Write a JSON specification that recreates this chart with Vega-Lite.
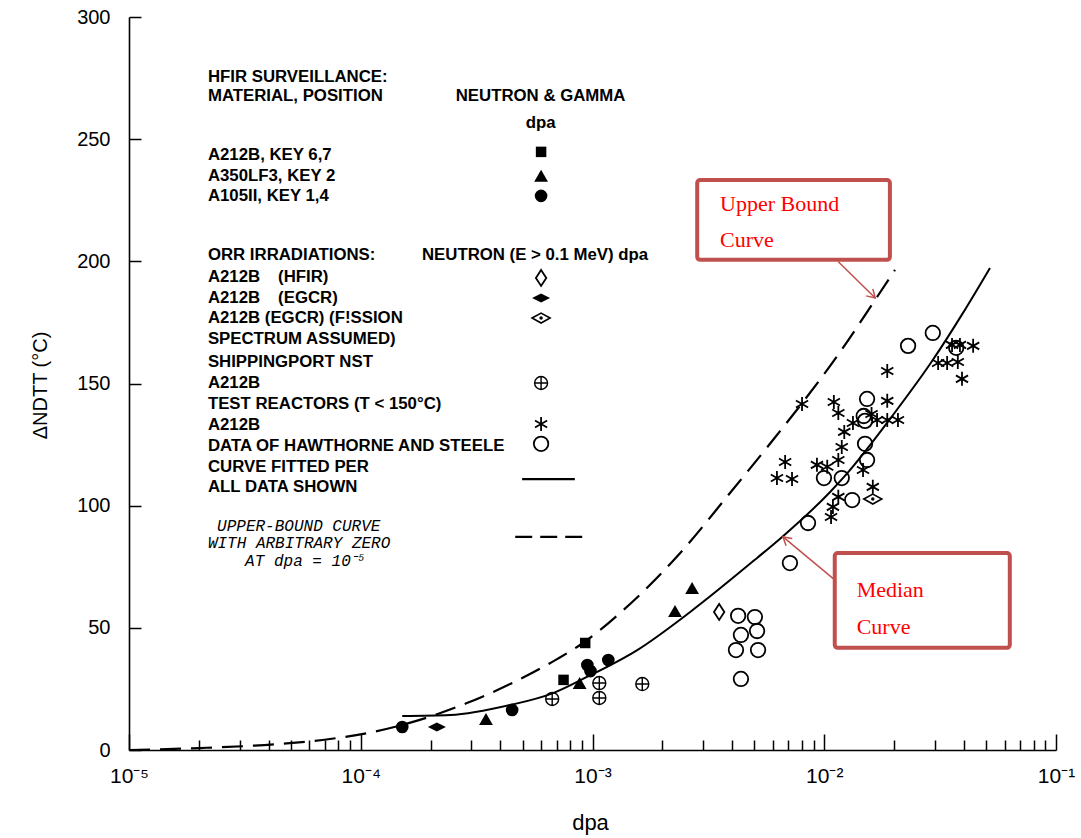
{
  "$schema": "https://vega.github.io/schema/vega-lite/v6.json",
  "width": 927,
  "height": 733,
  "autosize": {"type": "none"},
  "padding": {"left": 129, "top": 17, "right": 25, "bottom": 88},
  "background": "white",
  "config": {
    "view": {"stroke": null},
    "axis": {
      "grid": false,
      "domainColor": "black",
      "domainWidth": 1.6,
      "tickColor": "black",
      "tickWidth": 1.5,
      "labelColor": "black",
      "labelFont": "Liberation Sans",
      "labelFontSize": 20,
      "titleFont": "Liberation Sans",
      "titleFontWeight": "normal",
      "titleColor": "black"
    }
  },
  "datasets": {
    "pts": [
      {"s": "sq", "x": 0.00093, "y": 43.8}, {"s": "sq", "x": 0.00075, "y": 28.7}, {"s": "sq", "x": 0.0006, "y": 244.8},
      {"s": "tri", "x": 0.000347, "y": 12.7}, {"s": "tri", "x": 0.00088, "y": 27.4}, {"s": "tri", "x": 0.00227, "y": 56.9}, {"s": "tri", "x": 0.00269, "y": 66.3}, {"s": "tri", "x": 0.0006, "y": 235.0},
      {"s": "dot", "x": 0.000151, "y": 9.4}, {"s": "dot", "x": 0.00045, "y": 16.4}, {"s": "dot", "x": 0.00095, "y": 34.8}, {"s": "dot", "x": 0.00098, "y": 32.3}, {"s": "dot", "x": 0.00117, "y": 36.8}, {"s": "dot", "x": 0.0006, "y": 226.8},
      {"s": "odia", "x": 0.00352, "y": 56.5}, {"s": "odia", "x": 0.0006, "y": 193.2},
      {"s": "fdia", "x": 0.000213, "y": 9.4}, {"s": "fdia", "x": 0.0006, "y": 185.0},
      {"s": "edia", "x": 0.0162, "y": 102.7}, {"s": "edia", "x": 0.0006, "y": 176.8},
      {"s": "xo", "x": 0.00067, "y": 20.9}, {"s": "xo", "x": 0.00107, "y": 27.4}, {"s": "xo", "x": 0.00107, "y": 21.3}, {"s": "xo", "x": 0.00164, "y": 27.0}, {"s": "xo", "x": 0.0006, "y": 150.2},
      {"s": "star", "x": 0.00802, "y": 141.6}, {"s": "star", "x": 0.00678, "y": 117.9}, {"s": "star", "x": 0.00625, "y": 111.3}, {"s": "star", "x": 0.00726, "y": 110.9},
      {"s": "star", "x": 0.0110, "y": 142.4}, {"s": "star", "x": 0.0115, "y": 137.9}, {"s": "star", "x": 0.0187, "y": 155.1}, {"s": "star", "x": 0.0187, "y": 142.9},
      {"s": "star", "x": 0.0133, "y": 133.8}, {"s": "star", "x": 0.0122, "y": 130.2}, {"s": "star", "x": 0.0119, "y": 124.0}, {"s": "star", "x": 0.0115, "y": 118.7},
      {"s": "star", "x": 0.0093, "y": 116.7}, {"s": "star", "x": 0.0103, "y": 115.9}, {"s": "star", "x": 0.0147, "y": 114.6}, {"s": "star", "x": 0.0115, "y": 103.6},
      {"s": "star", "x": 0.0109, "y": 99.5}, {"s": "star", "x": 0.0107, "y": 95.4}, {"s": "star", "x": 0.0162, "y": 107.7}, {"s": "star", "x": 0.0169, "y": 135.1},
      {"s": "star", "x": 0.0187, "y": 135.1}, {"s": "star", "x": 0.0208, "y": 135.1}, {"s": "star", "x": 0.0160, "y": 137.5}, {"s": "star", "x": 0.0356, "y": 165.8},
      {"s": "star", "x": 0.0385, "y": 165.8}, {"s": "star", "x": 0.0439, "y": 165.4}, {"s": "star", "x": 0.0310, "y": 158.4}, {"s": "star", "x": 0.0339, "y": 158.4},
      {"s": "star", "x": 0.0377, "y": 158.8}, {"s": "star", "x": 0.0393, "y": 151.9}, {"s": "star", "x": 0.0006, "y": 133.4},
      {"s": "oc", "x": 0.00425, "y": 54.9}, {"s": "oc", "x": 0.00502, "y": 54.4}, {"s": "oc", "x": 0.00437, "y": 47.1}, {"s": "oc", "x": 0.00513, "y": 48.7},
      {"s": "oc", "x": 0.00416, "y": 40.9}, {"s": "oc", "x": 0.00518, "y": 40.9}, {"s": "oc", "x": 0.00437, "y": 29.1}, {"s": "oc", "x": 0.00711, "y": 76.5},
      {"s": "oc", "x": 0.00851, "y": 92.9}, {"s": "oc", "x": 0.0132, "y": 102.3}, {"s": "oc", "x": 0.00997, "y": 111.3}, {"s": "oc", "x": 0.0119, "y": 111.3},
      {"s": "oc", "x": 0.0153, "y": 118.7}, {"s": "oc", "x": 0.0150, "y": 125.3}, {"s": "oc", "x": 0.0150, "y": 134.7}, {"s": "oc", "x": 0.0153, "y": 143.7},
      {"s": "oc", "x": 0.0148, "y": 136.7}, {"s": "oc", "x": 0.0230, "y": 165.4}, {"s": "oc", "x": 0.0294, "y": 170.7}, {"s": "oc", "x": 0.0371, "y": 164.6},
      {"s": "oc", "x": 0.0006, "y": 125.3}
    ],
    "curves": [
      {"c": "median", "x": 0.000151, "y": 13.9}, {"c": "median", "x": 0.000243, "y": 14.3}, {"c": "median", "x": 0.000441, "y": 18.4},
      {"c": "median", "x": 0.000676, "y": 23.3}, {"c": "median", "x": 0.000946, "y": 29.9}, {"c": "median", "x": 0.00156, "y": 40.9},
      {"c": "median", "x": 0.00264, "y": 56.5}, {"c": "median", "x": 0.00513, "y": 78.6},
      {"c": "median", "x": 0.00658, "y": 87.2}, {"c": "median", "x": 0.0106, "y": 105.6}, {"c": "median", "x": 0.0125, "y": 113.0},
      {"c": "median", "x": 0.0198, "y": 137.1}, {"c": "median", "x": 0.0294, "y": 159.6}, {"c": "median", "x": 0.0397, "y": 178.9},
      {"c": "median", "x": 0.0519, "y": 197.3},
      {"c": "upper", "x": 0.00001, "y": 0}, {"c": "upper", "x": 0.0000202, "y": 0.8}, {"c": "upper", "x": 0.0000449, "y": 2.5},
      {"c": "upper", "x": 0.0000736, "y": 4.5}, {"c": "upper", "x": 0.000113, "y": 7.4}, {"c": "upper", "x": 0.000168, "y": 11.5},
      {"c": "upper", "x": 0.000287, "y": 19.2}, {"c": "upper", "x": 0.000441, "y": 27.0}, {"c": "upper", "x": 0.000703, "y": 37.2},
      {"c": "upper", "x": 0.00091, "y": 43.8}, {"c": "upper", "x": 0.00136, "y": 57.3}, {"c": "upper", "x": 0.00201, "y": 72.9},
      {"c": "upper", "x": 0.00239, "y": 80.6}, {"c": "upper", "x": 0.00392, "y": 105.2}, {"c": "upper", "x": 0.00625, "y": 128.9},
      {"c": "upper", "x": 0.00809, "y": 142.4}, {"c": "upper", "x": 0.0117, "y": 162.9}, {"c": "upper", "x": 0.0169, "y": 185.4},
      {"c": "upper", "x": 0.0202, "y": 196.5}
    ],
    "segs": [
      {"k": "solid", "x": 0.000497, "x2": 0.000839, "y": 110.9},
      {"k": "dash", "x": 0.000464, "x2": 0.000929, "y": 87.2}
    ],
    "boxes": [
      {"b": "upper", "x": 0.00283, "x2": 0.0192, "y": 200.6, "y2": 233.3},
      {"b": "median", "x": 0.0111, "x2": 0.0632, "y": 41.8, "y2": 80.6}
    ],
    "arrows": [
      {"a": "upper", "x": 0.0115, "y": 199.8, "x2": 0.0166, "y2": 185.0},
      {"a": "median", "x": 0.0111, "y": 69.6, "x2": 0.00664, "y2": 87.2}
    ],
    "heads": [
      {"a": "upper", "x": 0.0166, "y": 185.0},
      {"a": "median", "x": 0.00664, "y": 87.2}
    ],
    "txt": [
      {"k": "leg", "t": "HFIR SURVEILLANCE:", "x": 0.0000219, "y": 275.5},
      {"k": "leg", "t": "MATERIAL, POSITION", "x": 0.0000219, "y": 267.7},
      {"k": "leg", "t": "A212B, KEY 6,7", "x": 0.0000219, "y": 243.5},
      {"k": "leg", "t": "A350LF3, KEY 2", "x": 0.0000219, "y": 234.9},
      {"k": "leg", "t": "A105II, KEY 1,4", "x": 0.0000219, "y": 226.8},
      {"k": "leg", "t": "ORR IRRADIATIONS:", "x": 0.0000219, "y": 202.6},
      {"k": "leg", "t": "A212B", "x": 0.0000219, "y": 193.6},
      {"k": "leg", "t": "(HFIR)", "x": 0.000044, "y": 193.6},
      {"k": "leg", "t": "A212B", "x": 0.0000219, "y": 185.0},
      {"k": "leg", "t": "(EGCR)", "x": 0.000044, "y": 185.0},
      {"k": "leg", "t": "A212B (EGCR) (F!SSION", "x": 0.0000219, "y": 176.8},
      {"k": "leg", "t": "SPECTRUM ASSUMED)", "x": 0.0000219, "y": 168.2},
      {"k": "leg", "t": "SHIPPINGPORT NST", "x": 0.0000219, "y": 158.8},
      {"k": "leg", "t": "A212B", "x": 0.0000219, "y": 150.2},
      {"k": "leg", "t": "TEST REACTORS (T < 150°C)", "x": 0.0000219, "y": 141.6},
      {"k": "leg", "t": "A212B", "x": 0.0000219, "y": 133.0},
      {"k": "leg", "t": "DATA OF HAWTHORNE AND STEELE", "x": 0.0000219, "y": 124.4},
      {"k": "leg", "t": "CURVE FITTED PER", "x": 0.0000219, "y": 115.8},
      {"k": "leg", "t": "ALL DATA SHOWN", "x": 0.0000219, "y": 107.7},
      {"k": "legc", "t": "NEUTRON & GAMMA", "x": 0.000597, "y": 267.7},
      {"k": "legc", "t": "dpa", "x": 0.000597, "y": 256.7},
      {"k": "legc", "t": "NEUTRON (E > 0.1 MeV) dpa", "x": 0.000565, "y": 202.6},
      {"k": "ital", "t": "UPPER-BOUND CURVE", "x": 0.000024, "y": 91.7},
      {"k": "ital", "t": "WITH ARBITRARY ZERO", "x": 0.0000219, "y": 84.7},
      {"k": "ital", "t": "AT dpa = 10⁻⁵", "x": 0.0000317, "y": 77.4},
      {"k": "red", "t": "Upper Bound", "x": 0.00355, "y": 223.5},
      {"k": "red", "t": "Curve", "x": 0.00355, "y": 208.8},
      {"k": "red", "t": "Median", "x": 0.0138, "y": 65.5},
      {"k": "red", "t": "Curve", "x": 0.0138, "y": 50.3}
    ]
  },
  "encoding": {
    "x": {
      "field": "x",
      "type": "quantitative",
      "scale": {"type": "log", "domain": [0.00001, 0.1], "nice": false},
      "axis": {
        "title": "dpa",
        "titleFontSize": 22,
        "titleX": 461,
        "titleY": 72,
        "titleBaseline": "middle",
        "values": [0.00001, 0.00002, 0.00003, 0.00004, 0.00005, 0.00006, 0.00007, 0.00008, 0.00009,
                   0.0001, 0.0002, 0.0003, 0.0004, 0.0005, 0.0006, 0.0007, 0.0008, 0.0009,
                   0.001, 0.002, 0.003, 0.004, 0.005, 0.006, 0.007, 0.008, 0.009,
                   0.01, 0.02, 0.03, 0.04, 0.05, 0.06, 0.07, 0.08, 0.09, 0.1],
        "labelExpr": "abs(log(datum.value)/LN10-round(log(datum.value)/LN10))<0.000001 ? '10⁻' + ['','¹','²','³','⁴','⁵'][-round(log(datum.value)/LN10)] : ''",
        "tickSize": {"condition": {"test": "abs(log(datum.value)/LN10-round(log(datum.value)/LN10))<0.000001", "value": -16}, "value": -10},
        "labelPadding": 31,
        "labelFontSize": 21,
        "labelFlush": false,
        "labelOverlap": false
      }
    },
    "y": {
      "field": "y",
      "type": "quantitative",
      "scale": {"domain": [0, 300], "nice": false},
      "axis": {
        "title": "ΔNDTT (°C)",
        "titleFontSize": 20,
        "titleX": -89,
        "titleY": 368,
        "titleAngle": -90,
        "titleAlign": "center",
        "titleBaseline": "middle",
        "values": [0, 50, 100, 150, 200, 250, 300],
        "tickSize": -12,
        "labelPadding": 31
      }
    }
  },
  "layer": [
    {
      "data": {"name": "boxes"},
      "mark": {"type": "rect", "fill": "white", "stroke": "#C0504D", "strokeWidth": 4, "cornerRadius": 3},
      "encoding": {"x2": {"field": "x2"}, "y2": {"field": "y2"}}
    },
    {
      "data": {"name": "curves"},
      "transform": [{"filter": "datum.c == 'median'"}],
      "mark": {"type": "line", "color": "black", "strokeWidth": 2, "interpolate": "monotone"},
      "encoding": {}
    },
    {
      "data": {"name": "curves"},
      "transform": [{"filter": "datum.c == 'upper'"}],
      "mark": {"type": "line", "color": "black", "strokeWidth": 2.2, "strokeDash": [21, 10], "interpolate": "monotone"},
      "encoding": {}
    },
    {
      "data": {"name": "segs"},
      "mark": {"type": "rule", "color": "black", "strokeWidth": 2.2},
      "encoding": {
        "x2": {"field": "x2"},
        "strokeDash": {"field": "k", "type": "nominal", "scale": {"domain": ["solid", "dash"], "range": [[1, 0], [17, 8]]}, "legend": null}
      }
    },
    {
      "data": {"name": "pts"}, "transform": [{"filter": "datum.s == 'sq'"}],
      "mark": {"type": "point", "shape": "square", "filled": true, "color": "black", "size": 110, "opacity": 1}
    },
    {
      "data": {"name": "pts"}, "transform": [{"filter": "datum.s == 'tri'"}],
      "mark": {"type": "point", "shape": "triangle-up", "filled": true, "color": "black", "size": 190, "opacity": 1}
    },
    {
      "data": {"name": "pts"}, "transform": [{"filter": "datum.s == 'dot'"}],
      "mark": {"type": "point", "shape": "circle", "filled": true, "color": "black", "size": 160, "opacity": 1}
    },
    {
      "data": {"name": "pts"}, "transform": [{"filter": "datum.s == 'odia'"}],
      "mark": {"type": "point", "shape": "M0,-1L0.65,0L0,1L-0.65,0Z", "filled": false, "color": "black", "strokeWidth": 1.8, "size": 256, "opacity": 1}
    },
    {
      "data": {"name": "pts"}, "transform": [{"filter": "datum.s == 'fdia'"}],
      "mark": {"type": "point", "shape": "M-1,0L0,-0.5L1,0L0,0.5Z", "filled": true, "color": "black", "size": 324, "opacity": 1}
    },
    {
      "data": {"name": "pts"}, "transform": [{"filter": "datum.s == 'edia'"}],
      "mark": {"type": "point", "shape": "M-1,0L0,-0.55L1,0L0,0.55Z", "filled": false, "color": "black", "strokeWidth": 1.6, "size": 324, "opacity": 1}
    },
    {
      "data": {"name": "pts"}, "transform": [{"filter": "datum.s == 'edia'"}],
      "mark": {"type": "point", "shape": "circle", "filled": true, "color": "black", "size": 12, "opacity": 1}
    },
    {
      "data": {"name": "pts"}, "transform": [{"filter": "datum.s == 'xo'"}],
      "mark": {"type": "point", "shape": "M-1,0A1,1,0,1,1,1,0A1,1,0,1,1,-1,0ZM-1,0L1,0M0,-1L0,1", "filled": false, "color": "black", "strokeWidth": 1.4, "size": 169, "opacity": 1}
    },
    {
      "data": {"name": "pts"}, "transform": [{"filter": "datum.s == 'star'"}],
      "mark": {"type": "point", "shape": "M0,-1L0,1M-0.87,-0.5L0.87,0.5M-0.87,0.5L0.87,-0.5", "filled": false, "color": "black", "strokeWidth": 1.8, "size": 196, "opacity": 1}
    },
    {
      "data": {"name": "pts"}, "transform": [{"filter": "datum.s == 'oc'"}],
      "mark": {"type": "point", "shape": "circle", "filled": false, "color": "black", "strokeWidth": 1.8, "size": 210, "opacity": 1}
    },
    {
      "data": {"name": "arrows"},
      "mark": {"type": "rule", "color": "#C0504D", "strokeWidth": 1.5},
      "encoding": {"x2": {"field": "x2"}, "y2": {"field": "y2"}}
    },
    {
      "data": {"name": "heads"}, "transform": [{"filter": "datum.a == 'upper'"}],
      "mark": {"type": "point", "shape": "M-0.6,-1L0,0L0.6,-1", "filled": false, "color": "#C0504D", "strokeWidth": 1.5, "size": 256, "angle": -46, "opacity": 1}
    },
    {
      "data": {"name": "heads"}, "transform": [{"filter": "datum.a == 'median'"}],
      "mark": {"type": "point", "shape": "M-0.6,-1L0,0L0.6,-1", "filled": false, "color": "#C0504D", "strokeWidth": 1.5, "size": 256, "angle": 130, "opacity": 1}
    },
    {
      "data": {"name": "txt"}, "transform": [{"filter": "datum.k == 'leg'"}],
      "mark": {"type": "text", "align": "left", "baseline": "middle", "font": "Liberation Sans", "fontSize": 16.8, "fontWeight": "bold", "color": "black"},
      "encoding": {"text": {"field": "t"}}
    },
    {
      "data": {"name": "txt"}, "transform": [{"filter": "datum.k == 'legc'"}],
      "mark": {"type": "text", "align": "center", "baseline": "middle", "font": "Liberation Sans", "fontSize": 16.8, "fontWeight": "bold", "color": "black"},
      "encoding": {"text": {"field": "t"}}
    },
    {
      "data": {"name": "txt"}, "transform": [{"filter": "datum.k == 'ital'"}],
      "mark": {"type": "text", "align": "left", "baseline": "middle", "font": "Liberation Mono", "fontSize": 16, "fontStyle": "italic", "color": "black"},
      "encoding": {"text": {"field": "t"}}
    },
    {
      "data": {"name": "txt"}, "transform": [{"filter": "datum.k == 'red'"}],
      "mark": {"type": "text", "align": "left", "baseline": "middle", "font": "Liberation Serif", "fontSize": 22, "color": "#FF0000"},
      "encoding": {"text": {"field": "t"}}
    }
  ]
}
